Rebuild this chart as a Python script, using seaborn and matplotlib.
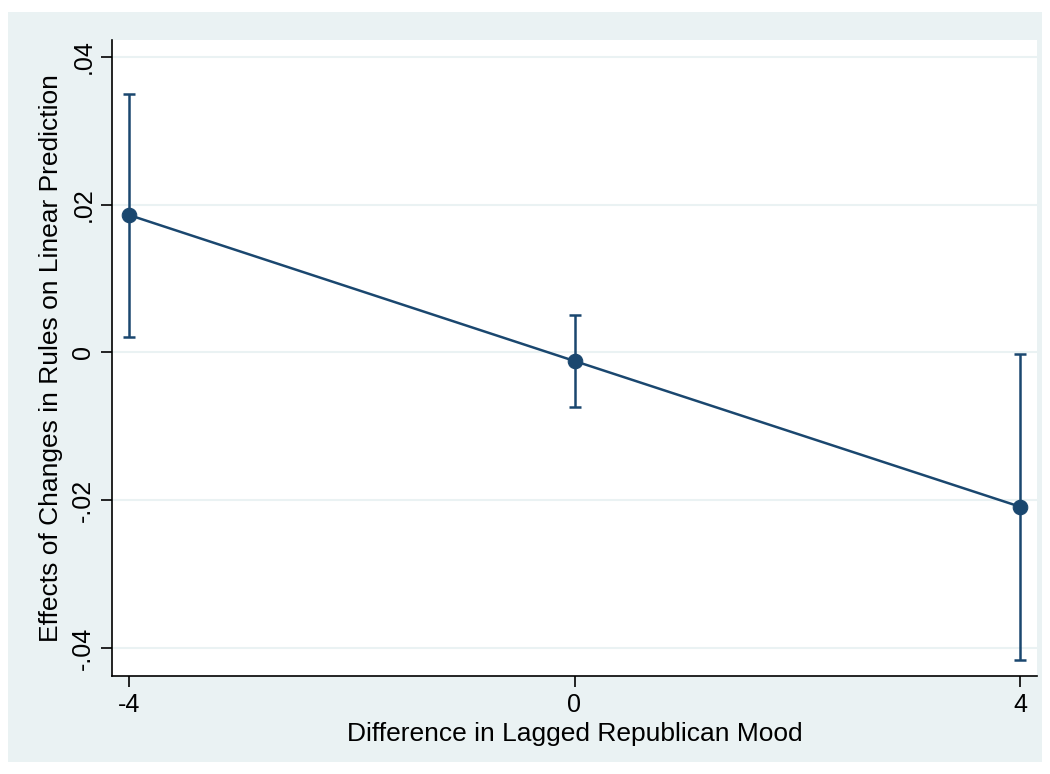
import matplotlib
matplotlib.use("Agg")
import matplotlib.pyplot as plt
import matplotlib.patches as mpatches
import seaborn as sns
import pandas as pd

# Datos (marginsplot)
mood_diff = [-4, 0, 4]
effect = [0.01861, -0.00115, -0.02087]
ci_low = [0.0021, -0.00734, -0.04158]
ci_high = [0.0350, 0.00504, -0.00016]
y_ticks = [-0.04, -0.02, 0.0, 0.02, 0.04]
y_tick_labels = ["-.04", "-.02", "0", ".02", ".04"]
x_ticks = [-4, 0, 4]

sns.set_style("white")
plt.rcParams['font.family'] = ['Liberation Sans', 'DejaVu Sans']
plt.rcParams['text.color'] = 'black'
plt.rcParams['axes.labelcolor'] = 'black'
plt.rcParams['xtick.color'] = 'black'
plt.rcParams['ytick.color'] = 'black'

navy = "#1A476F"
bg = "#EAF2F3"

df = pd.DataFrame({"x": mood_diff, "y": effect, "lo": ci_low, "hi": ci_high})

fig = plt.figure(figsize=(10.5, 7.74), dpi=100)
fig.patch.set_facecolor("white")
fig.patches.append(mpatches.Rectangle((8 / 1050, 12 / 774), 1034 / 1050, 750 / 774,
                                      transform=fig.transFigure, facecolor=bg,
                                      edgecolor="none", zorder=-10))
ax = fig.add_axes([112 / 1050, 1 - 676 / 774, 925 / 1050, 636 / 774])
ax.set_facecolor("white")

# Líneas de cuadrícula horizontales
for t in y_ticks:
    ax.axhline(t, color=bg, lw=1.5, zorder=0)

# Intervalos de confianza
ax.errorbar(df["x"], df["y"],
            yerr=[df["y"] - df["lo"], df["hi"] - df["y"]],
            fmt="none", ecolor=navy, elinewidth=1.8, capsize=4.5, capthick=1.8, zorder=2)

sns.lineplot(data=df, x="x", y="y", color=navy, lw=1.8, marker="o",
             markersize=10.5, markeredgecolor=navy, ax=ax, zorder=3)

ax.set_xlim(-4.153, 4.153)
ax.set_ylim(-0.04379, 0.0423)
ax.set_xticks(x_ticks)
ax.set_xticklabels([str(v) for v in x_ticks])
ax.set_yticks(y_ticks)
ax.set_yticklabels(y_tick_labels, rotation=90, va="center")

for s in ["top", "right"]:
    ax.spines[s].set_visible(False)
for s in ["left", "bottom"]:
    ax.spines[s].set_color("black")
    ax.spines[s].set_linewidth(1.2)

ax.tick_params(axis="both", which="major", direction="out", length=8, width=1.2,
               color="black", labelcolor="black", labelsize=18, left=True, bottom=True, pad=4)

ax.set_xlabel("Difference in Lagged Republican Mood", fontsize=19, labelpad=4, color="black")
ax.set_ylabel("Effects of Changes in Rules on Linear Prediction", fontsize=19, labelpad=6,
              color="black")

fig.savefig("out.png", dpi=100, facecolor=fig.get_facecolor())
